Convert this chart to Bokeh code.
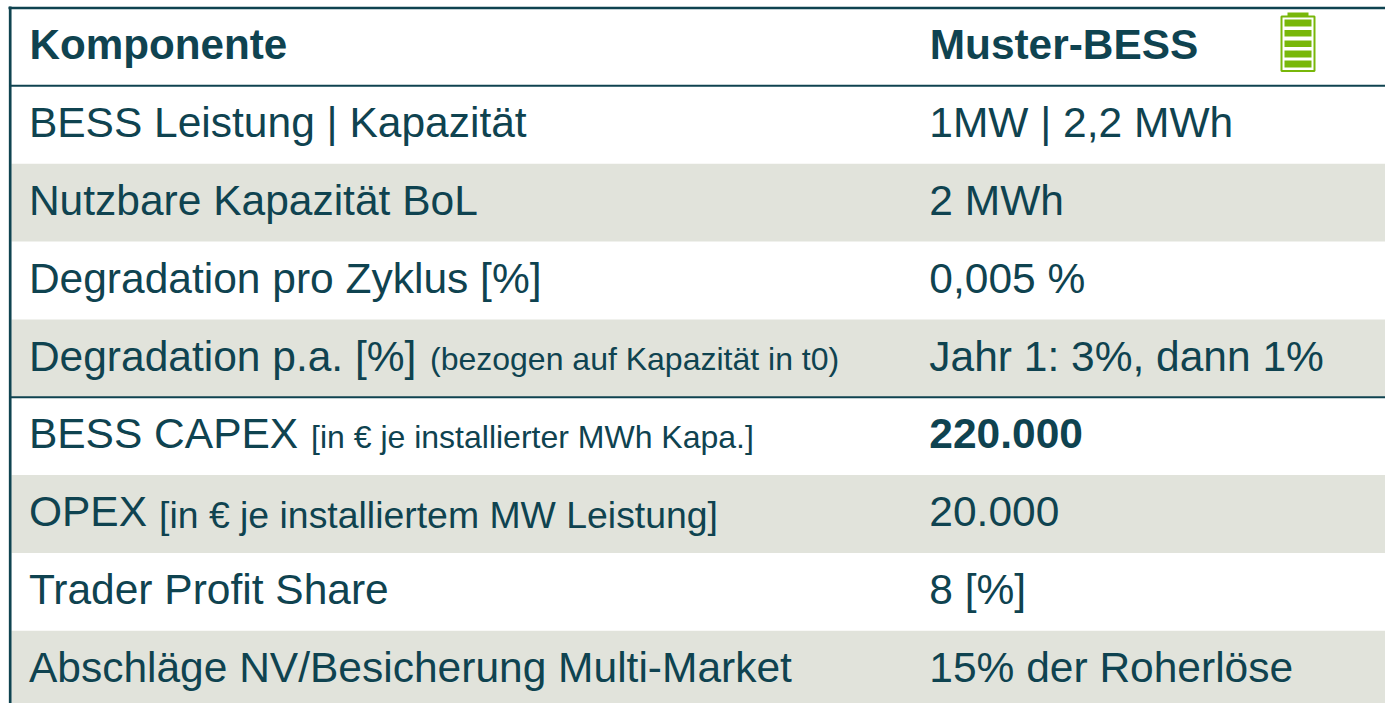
from bokeh.plotting import figure
from bokeh.embed import file_html
from bokeh.resources import INLINE
from bokeh.core.properties import value

header = ["Komponente", "Muster-BESS"]
labels = ["BESS Leistung | Kapazität", "Nutzbare Kapazität BoL", "Degradation pro Zyklus [%]",
          "Degradation p.a. [%]", "BESS CAPEX", "OPEX", "Trader Profit Share",
          "Abschläge NV/Besicherung Multi-Market"]
notes = ["", "", "", "(bezogen auf Kapazität in t0)", "[in € je installierter MWh Kapa.]",
         "[in € je installiertem MW Leistung]", "", ""]
note_x = [0, 0, 0, 429.5, 310.5, 158.5, 0, 0]
note_size = [0, 0, 0, 32, 32, 37.4, 0, 0]
vals = ["1MW | 2,2 MWh", "2 MWh", "0,005 %", "Jahr 1: 3%, dann 1%", "220.000", "20.000", "8 [%]", "15% der Roherlöse"]
val_bold = [False, False, False, False, True, False, False, False]
shaded = [1, 3, 5, 7]
rules = [0, 4]

INK = "#0F4350"
BAND = "#E1E3DB"
GREEN = "#78B70A"
FONT = value("Liberation Sans")
TOP, H = 7.5, 77.85
COL1, COL2 = 28.4, 928.8
TEXT_SHIFT = -2.3
row_y = lambda r: TOP + H * (r + 1)      # top of body row r

p = figure(width=1385, height=703, x_range=(0, 1385), y_range=(703, 0), output_backend="svg",
           toolbar_location=None, min_border=0, outline_line_color=None, border_fill_color="white",
           background_fill_color="white")
p.axis.visible = False
p.grid.visible = False

p.quad(left=[11] * 4, right=[1385] * 4, top=[row_y(r) for r in shaded], bottom=[row_y(r) + H for r in shaded],
       fill_color=BAND, line_color=None)

# frame
p.segment(x0=[8], x1=[1385], y0=[TOP], y1=[TOP], line_color=INK, line_width=2.6)
p.segment(x0=[9.7], x1=[9.7], y0=[6], y1=[703], line_color=INK, line_width=2.7)
for r in rules:
    p.segment(x0=[9], x1=[1385], y0=[row_y(r)], y1=[row_y(r)], line_color=INK, line_width=2)

# battery icon
p.quad(left=[1281], right=[1314], top=[16], bottom=[70.5], fill_color="white", line_color=GREEN, line_width=2)
p.quad(left=[1287], right=[1308], top=[12], bottom=[16], fill_color=GREEN, line_color=None)
p.quad(left=[1284] * 5, right=[1311] * 5, top=[19, 29.5, 40, 50, 60], bottom=[26, 36, 46.5, 57, 67],
       fill_color=GREEN, line_color=None)

def txt(x, y, s, size, bold=False):
    p.text(x=[x], y=[y + TEXT_SHIFT], text=[s], text_font=FONT, text_font_size=f"{size}px", text_color=INK,
           text_baseline="middle", text_align="left", text_font_style="bold" if bold else "normal")

hy = TOP + H / 2
txt(COL1 + 0.6, hy, header[0], 42.2, True)
txt(COL2 + 0.4, hy, header[1], 42.4, True)
for i, (l, n, v) in enumerate(zip(labels, notes, vals)):
    y = row_y(i) + H / 2
    txt(COL1, y, l, 42.5)
    if n:
        txt(note_x[i], y + 3, n, note_size[i])
    txt(COL2, y, v, 42.5, val_bold[i])

open("out.html", "w").write(file_html(p, INLINE))
